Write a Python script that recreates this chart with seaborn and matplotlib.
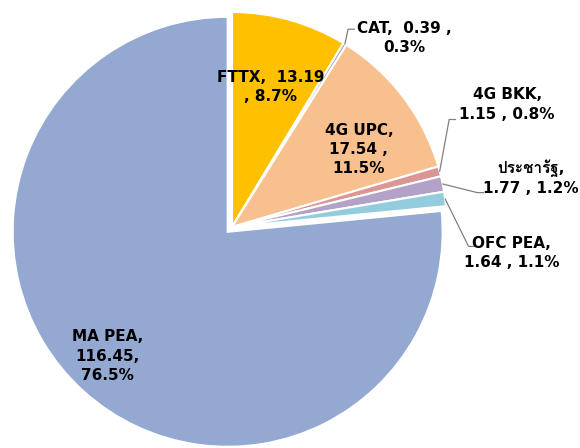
import matplotlib
matplotlib.use("Agg")
import matplotlib.pyplot as plt
from matplotlib import font_manager
from matplotlib.ft2font import FT2Font
import numpy as np
import seaborn as sns

# data
categories = ["FTTX", "CAT", "4G UPC", "4G BKK", "ประชารัฐ", "OFC PEA", "MA PEA"]
values = [13.19, 0.39, 17.54, 1.15, 1.77, 1.64, 116.45]
label_texts = [
    "FTTX,  13.19\n, 8.7%",
    "CAT,  0.39 ,\n0.3%",
    "4G UPC,\n17.54 ,\n11.5%",
    "4G BKK,\n1.15 , 0.8%",
    "ประชารัฐ,\n1.77 , 1.2%",
    "OFC PEA,\n1.64 , 1.1%",
    "MA PEA,\n116.45,\n76.5%",
]

# styles
colors = ["#FFC000", "#A5A5A5", "#F9C08F", "#D99694", "#B3A2C7", "#93CDDD", "#94A9D1"]
explode = [0, 0, 0, 0, 0, 0, 0.03]
# label centre positions (pie radius = 1)
label_pos = [(0.18, 0.65), (0.80, 0.88), (0.59, 0.36), (1.28, 0.57), (1.39, 0.23), (1.30, -0.12), (-0.58, -0.60)]
# leader elbow points (None = no leader line)
elbows = [None, (0.54, 0.92), None, (1.01, 0.50), (1.14, 0.16), (1.10, -0.09), None]

sns.set_theme(style="white")

# find a font that has Thai glyphs, if any
thai_family = None
for f in font_manager.fontManager.ttflist:
    try:
        if ord("ป") in FT2Font(f.fname).get_charmap():
            thai_family = f.name
            break
    except Exception:
        pass
families = ["DejaVu Sans"] + ([thai_family] if thai_family else [])
plt.rcParams["font.family"] = families

fig = plt.figure(figsize=(5.8, 4.48), dpi=100)
ax = fig.add_axes([0, 0, 1, 1])

wedges, _ = ax.pie(values, colors=colors, explode=explode, startangle=90, counterclock=False,
                   radius=1, wedgeprops=dict(edgecolor="white", linewidth=1.5))

R = 215.0
ax.set_xlim(-232 / R, 348 / R)
ax.set_ylim(-221 / R, 227 / R)
ax.set_aspect("auto")
ax.axis("off")

total = sum(values)
cum = np.cumsum([0] + values[:-1])
for i, txt in enumerate(label_texts):
    x, y = label_pos[i]
    ax.text(x, y, txt, ha="center", va="center", fontsize=11, fontweight="bold",
            color="black", linespacing=1.35)
    if elbows[i] is not None:
        mid = np.deg2rad(90 - (cum[i] + values[i] / 2) / total * 360)
        px, py = np.cos(mid), np.sin(mid)
        ex, ey = elbows[i]
        ax.plot([px, ex, ex + 0.03], [py, ey, ey], color="#808080", lw=0.9)

fig.savefig("out.png", dpi=100)
